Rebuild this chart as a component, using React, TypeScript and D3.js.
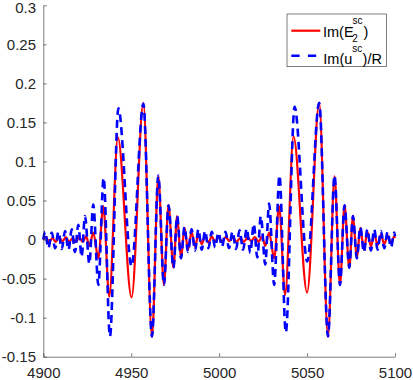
import React, { useEffect, useRef } from "react";
import * as d3 from "d3";

// tick values / labels
const xTicks = [4900, 4950, 5000, 5050, 5100];
const yTicks = [-0.15, -0.1, -0.05, 0, 0.05, 0.1, 0.15, 0.2, 0.25, 0.3];
const yTickLabels = ["-0.15", "-0.1", "-0.05", "0", "0.05", "0.1", "0.15", "0.2", "0.25", "0.3"];

// Im(E2^sc): extrema [x, value]
const e2Sc: [number, number][] = [
  [4900.0, 0.0], [4901.5, 0.003], [4903.3, -0.003], [4905.2, 0.002], [4907.1, -0.003],
  [4909.0, 0.003], [4910.9, -0.002], [4912.8, 0.003], [4914.7, -0.003], [4916.6, 0.002],
  [4918.5, -0.003], [4920.4, 0.003], [4922.3, -0.003], [4924.4, 0.004], [4926.2, -0.008],
  [4928.4, 0.009], [4931.3, -0.024], [4934.1, 0.043], [4937.5, -0.073], [4942.4, 0.131],
  [4950.2, -0.074], [4956.9, 0.175], [4961.8, -0.125], [4965.4, 0.081], [4968.6, -0.058],
  [4971.2, 0.044], [4974.0, -0.036], [4976.1, 0.03], [4978.3, -0.024], [4980.3, 0.015],
  [4982.3, -0.013], [4984.3, 0.01], [4986.3, -0.009], [4988.2, 0.007], [4990.1, -0.006],
  [4992.0, 0.005], [4993.9, -0.004], [4995.8, 0.004], [4997.7, -0.003], [4999.6, 0.003],
  [5001.7, -0.003], [5003.7, 0.003], [5005.8, -0.002], [5007.9, 0.003], [5009.9, -0.003],
  [5012.0, 0.002], [5014.1, -0.003], [5016.2, 0.003], [5018.2, -0.002], [5020.3, 0.003],
  [5022.4, -0.003], [5024.4, 0.004], [5026.2, -0.008], [5028.4, 0.009], [5031.3, -0.024],
  [5034.1, 0.043], [5037.5, -0.071], [5042.3, 0.132], [5050.0, -0.068], [5056.9, 0.175],
  [5061.9, -0.124], [5065.6, 0.081], [5068.7, -0.058], [5071.3, 0.044], [5074.0, -0.036],
  [5076.1, 0.03], [5078.3, -0.024], [5080.3, 0.015], [5082.3, -0.013], [5084.3, 0.01],
  [5086.3, -0.009], [5088.2, 0.007], [5090.1, -0.007], [5092.0, 0.006], [5093.9, -0.006],
  [5095.8, 0.005], [5097.7, -0.005], [5099.6, 0.004], [5100.0, 0.002],
];

// Im(u^sc)/R
const uScR: [number, number][] = [
  [4900.0, 0.0], [4901.0, 0.01], [4902.9, -0.011], [4904.8, 0.009], [4906.7, -0.011],
  [4908.6, 0.01], [4910.5, -0.012], [4912.4, 0.011], [4914.3, -0.013], [4916.2, 0.013],
  [4918.0, -0.016], [4919.9, 0.019], [4921.8, -0.022], [4923.7, 0.03], [4926.2, -0.031],
  [4928.4, 0.045], [4931.3, -0.058], [4934.3, 0.079], [4937.9, -0.124], [4942.7, 0.168],
  [4950.2, -0.034], [4956.9, 0.174], [4961.8, -0.124], [4965.4, 0.082], [4968.6, -0.058],
  [4971.2, 0.044], [4974.0, -0.036], [4976.1, 0.03], [4978.3, -0.024], [4980.3, 0.016],
  [4982.3, -0.016], [4984.3, 0.013], [4986.3, -0.014], [4988.2, 0.013], [4990.1, -0.013],
  [4992.0, 0.011], [4993.9, -0.011], [4995.8, 0.01], [4997.7, -0.01], [4999.6, 0.009],
  [5001.6, -0.009], [5003.6, 0.01], [5005.6, -0.011], [5007.6, 0.01], [5009.6, -0.012],
  [5011.6, 0.012], [5013.6, -0.013], [5015.7, 0.014], [5017.7, -0.017], [5019.7, 0.02],
  [5021.7, -0.023], [5023.7, 0.03], [5026.2, -0.032], [5028.4, 0.046], [5031.3, -0.058],
  [5034.3, 0.082], [5037.9, -0.119], [5042.9, 0.17], [5050.1, -0.028], [5056.9, 0.175],
  [5061.9, -0.124], [5065.6, 0.082], [5068.7, -0.058], [5071.3, 0.044], [5074.0, -0.036],
  [5076.1, 0.03], [5078.3, -0.024], [5080.3, 0.016], [5082.3, -0.016], [5084.3, 0.013],
  [5086.3, -0.014], [5088.2, 0.013], [5090.1, -0.013], [5092.0, 0.011], [5093.9, -0.011],
  [5095.8, 0.01], [5097.7, -0.01], [5099.6, 0.009], [5100.0, 0.004],
];

const FONT = "'Liberation Sans', Arial, Helvetica, sans-serif";
const INK = "#262626";

const App = () => {
  const ref = useRef<SVGSVGElement>(null);

  useEffect(() => {
    if (!ref.current) return;
    const svg = d3.select(ref.current);
    svg.selectAll("*").remove();

    const x = d3.scaleLinear().domain([4900, 5100]).range([43.3, 395]);
    const y = d3.scaleLinear().domain([-0.15, 0.3]).range([356.7, 5.3]);

    const line = d3
      .line<[number, number]>()
      .x((d) => x(d[0]))
      .y((d) => y(d[1]))
      .curve(d3.curveMonotoneX);

    svg.append("path")
      .datum(e2Sc)
      .attr("d", line)
      .attr("fill", "none")
      .attr("stroke", "#ff0000")
      .attr("stroke-width", 2.2)
      .attr("stroke-linejoin", "round");

    svg.append("path")
      .datum(uScR)
      .attr("d", line)
      .attr("fill", "none")
      .attr("stroke", "#0000ff")
      .attr("stroke-width", 2.6)
      .attr("stroke-dasharray", "8,5");

    // axes (ticks point inward, no box)
    const xAxis = d3.axisBottom(x)
      .tickValues(xTicks)
      .tickSize(-3.5)
      .tickSizeOuter(0)
      .tickPadding(10.3)
      .tickFormat(d3.format("d"));

    const gx = svg.append("g")
      .attr("transform", "translate(0,356.7)")
      .call(xAxis);

    const yAxis = d3.axisLeft(y)
      .tickValues(yTicks)
      .tickSize(-3.5)
      .tickSizeOuter(0)
      .tickPadding(7.3)
      .tickFormat((d, i) => yTickLabels[i]);

    const gy = svg.append("g")
      .attr("transform", "translate(43.3,0)")
      .call(yAxis);

    [gx, gy].forEach((g) => {
      g.attr("font-family", FONT).attr("font-size", 15);
      g.select(".domain").attr("stroke", INK).attr("stroke-width", 0.6);
      g.selectAll(".tick line").attr("stroke", INK).attr("stroke-width", 0.6);
      g.selectAll(".tick text").attr("fill", INK);
    });

    // top label sits a little lower so it stays inside the page
    gy.selectAll<SVGTextElement, number>(".tick text")
      .filter((d) => d === 0.3)
      .attr("y", 2.2);

    // legend
    const lg = svg.append("g").attr("font-family", FONT).attr("fill", "#000");
    lg.append("rect")
      .attr("x", 287).attr("y", 14)
      .attr("width", 99.3).attr("height", 52.7)
      .attr("fill", "#fff")
      .attr("stroke", INK)
      .attr("stroke-width", 0.6);

    lg.append("line")
      .attr("x1", 291.3).attr("x2", 320.3)
      .attr("y1", 30.7).attr("y2", 30.7)
      .attr("stroke", "#ff0000").attr("stroke-width", 2.2);

    lg.append("line")
      .attr("x1", 291.3).attr("x2", 320.3)
      .attr("y1", 55.7).attr("y2", 55.7)
      .attr("stroke", "#0000ff").attr("stroke-width", 2.6)
      .attr("stroke-dasharray", "8.3,8.3");

    // row 1: Im(E_2^sc)
    lg.append("text").attr("x", 323).attr("y", 36.7).attr("font-size", 14.5).text("Im(E");
    lg.append("text").attr("x", 352.6).attr("y", 23.8).attr("font-size", 10).text("sc");
    lg.append("text").attr("x", 352.3).attr("y", 42.3).attr("font-size", 10).text("2");
    lg.append("text").attr("x", 363.4).attr("y", 36.7).attr("font-size", 14.5).text(")");

    // row 2: Im(u^sc)/R
    lg.append("text").attr("x", 323.3).attr("y", 64.3).attr("font-size", 14.5).text("Im(u");
    lg.append("text").attr("x", 352.3).attr("y", 51.8).attr("font-size", 10).text("sc");
    lg.append("text").attr("x", 362.6).attr("y", 64.3).attr("font-size", 14.5).text(")/R");
  }, []);

  return (
    <svg
      ref={ref}
      width={413}
      height={380}
      style={{ position: "absolute", left: 0, top: 0, background: "#fff" }}
    />
  );
};

export default App;
